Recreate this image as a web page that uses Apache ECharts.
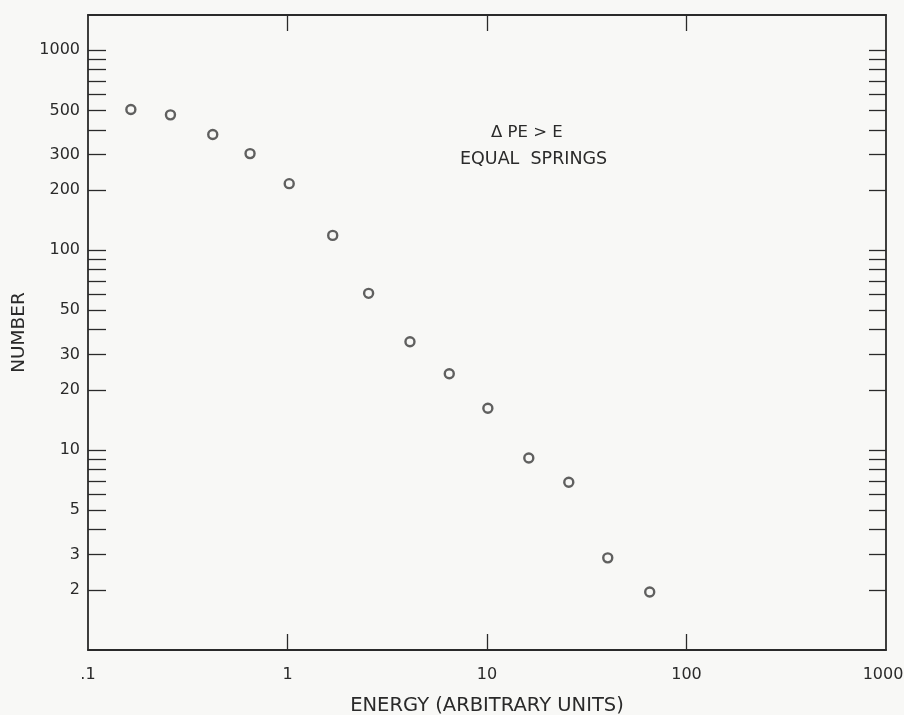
<!DOCTYPE html>
<html>
<head>
<meta charset="utf-8">
<script src="https://cdn.jsdelivr.net/npm/echarts@6/dist/echarts.min.js"></script>
<style>
html,body{margin:0;padding:0;background:#f8f8f6;}
#c{width:904px;height:715px;}
</style>
</head>
<body>
<div id="c"></div>
<script>
// Data
const energy = [0.164, 0.259, 0.422, 0.649, 1.02, 1.685, 2.55, 4.11, 6.47, 10.1, 16.2, 25.7, 40.3, 65.4];
const number = [505, 475, 379, 304, 215, 118.5, 60.8, 34.8, 24.1, 16.2, 9.12, 6.9, 2.89, 1.95];

const xLabelValues = [0.1, 1, 10, 100, 1000];
const xTickValues = [1, 10, 100];
const yLabelValues = [2, 3, 5, 10, 20, 30, 50, 100, 200, 300, 500, 1000];
const yTickValues = [2, 3, 4, 5, 6, 7, 8, 9, 10, 20, 30, 40, 50, 60, 70, 80, 90, 100, 200, 300, 400, 500, 600, 700, 800, 900, 1000];

const annotation1 = '\u0394 PE > E';
const annotation2 = 'EQUAL  SPRINGS';
const xTitle = 'ENERGY (ARBITRARY UNITS)';
const yTitle = 'NUMBER';

const ink = '#2a2a2a';
const font = 'DejaVu Sans';

const chart = echarts.init(document.getElementById('c'), null, {renderer: 'canvas'});

function xFmt(v) {
  if (Math.abs(v - 0.1) < 1e-9) return '.1';
  const s = String(Math.round(v));
  if (s === '1000') return '{m|' + s + '}';
  return s;
}

const lineStyle = {color: ink, width: 1.8};
const tickStyle = {color: ink, width: 1.3};

const option = {
  backgroundColor: '#f8f8f6',
  animation: false,
  grid: {left: 88, right: 18, top: 15, bottom: 65, containLabel: false, outerBoundsMode: 'none'},
  xAxis: [
    {
      type: 'log', logBase: 10, min: 0.1, max: 1000, position: 'bottom',
      name: xTitle, nameLocation: 'middle', nameGap: 46,
      nameTextStyle: {color: ink, fontFamily: font, fontSize: 19.5},
      axisLine: {show: true, lineStyle: lineStyle},
      axisTick: {show: true, inside: true, length: 16, customValues: xTickValues, lineStyle: tickStyle},
      axisLabel: {
        show: true, customValues: xLabelValues, formatter: xFmt, color: ink, fontFamily: font, fontSize: 16, margin: 17,
        rich: {m: {color: ink, fontFamily: font, fontSize: 16, padding: [0, 6, 0, 0]}}
      },
      splitLine: {show: false}, minorTick: {show: false}
    },
    {
      type: 'log', logBase: 10, min: 0.1, max: 1000, position: 'top',
      axisLine: {show: true, lineStyle: lineStyle},
      axisTick: {show: true, inside: true, length: 16, customValues: xTickValues, lineStyle: tickStyle},
      axisLabel: {show: false},
      splitLine: {show: false}
    }
  ],
  yAxis: [
    {
      type: 'log', logBase: 10, min: 1, max: 1500, position: 'left',
      name: yTitle, nameLocation: 'middle', nameGap: 55, nameRotate: 90,
      nameTextStyle: {color: ink, fontFamily: font, fontSize: 18.5},
      axisLine: {show: true, lineStyle: lineStyle},
      axisTick: {show: true, inside: true, length: 18, customValues: yTickValues, lineStyle: tickStyle},
      axisLabel: {show: true, customValues: yLabelValues, formatter: v => String(Math.round(v)), color: ink, fontFamily: font, fontSize: 16, margin: 8},
      splitLine: {show: false}
    },
    {
      type: 'log', logBase: 10, min: 1, max: 1500, position: 'right',
      axisLine: {show: true, lineStyle: lineStyle},
      axisTick: {show: true, inside: true, length: 17, customValues: yTickValues, lineStyle: tickStyle},
      axisLabel: {show: false},
      splitLine: {show: false}
    }
  ],
  series: [
    {
      type: 'scatter',
      xAxisIndex: 0, yAxisIndex: 0,
      data: energy.map((e, i) => [e, number[i]]),
      symbol: 'circle',
      symbolSize: 9,
      itemStyle: {color: 'rgba(0,0,0,0)', borderColor: '#3a3a3a', borderWidth: 2.4},
      emphasis: {disabled: true}
    }
  ],
  graphic: [
    {type: 'text', left: 491, top: 124, style: {text: annotation1, fill: ink, font: '16.5px "DejaVu Sans"'}},
    {type: 'text', left: 460, top: 150, style: {text: annotation2, fill: ink, font: '17.5px "DejaVu Sans"'}}
  ]
};
chart.setOption(option);
</script>
</body>
</html>
